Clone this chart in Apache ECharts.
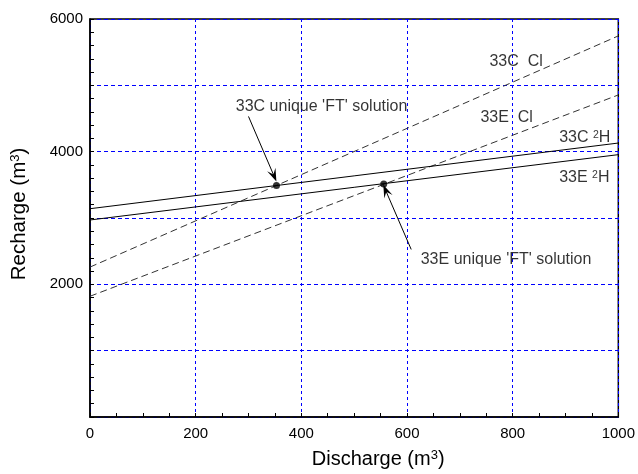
<!DOCTYPE html>
<html>
<head>
<meta charset="utf-8">
<script src="https://cdn.jsdelivr.net/npm/echarts@6/dist/echarts.min.js"></script>
<style>
    html, body { margin: 0; padding: 0; background: #fff; }
    #chart { width: 638px; height: 474px; }
</style>
</head>
<body>
<div id="chart"></div>
<script>
// discharge end points of the model lines (m3)
var discharge = [0, 1000];
// recharge (m3) given by each tracer at those end points
var c33H2 = [3140, 4130];
var e33H2 = [2970, 3955];
var c33Cl = [2260, 5745];
var e33Cl = [1820, 4855];
// unique 'FT' solutions [discharge, recharge]
var c33Solution = [353, 3490];
var e33Solution = [556, 3512];
// labelled ticks
var xTicks = [0, 200, 400, 600, 800, 1000];
var yTicks = [2000, 4000, 6000];

(function(window, document, undefined) {
    var FONT = "'Liberation Sans', Arial, sans-serif";
    var GRID_BLUE = '#0000ff';

    // line labels and call-outs, placed in data units
    var notes = [
        { text: '33C  Cl', at: [756, 5353] },
        { text: '33E  Cl', at: [739, 4511] },
        { text: '33C {s|2}H', at: [888, 4205] },
        { text: '33E {s|2}H', at: [888, 3612] },
        { text: "33C unique 'FT' solution", at: [276, 4680] },
        { text: "33E unique 'FT' solution", at: [626, 2376] }
    ];
    var arrows = [
        [[300, 4531], [348, 3640]],
        [[608, 2526], [560, 3410]]
    ];

    var pairs = function(ys) {
        return discharge.map(function(x, i) { return [x, ys[i]]; });
    };

    var modelLine = function(name, ys, dashed) {
        return {
            name: name,
            type: 'line',
            data: pairs(ys),
            symbol: 'none',
            silent: true,
            z: 3,
            lineStyle: {
                color: dashed ? '#333' : '#000',
                width: 1,
                type: dashed ? [7, 4] : 'solid'
            }
        };
    };

    var chart = echarts.init(document.getElementById('chart'), null, { renderer: 'canvas' });

    var option = {
        animation: false,
        backgroundColor: '#fff',
        textStyle: { fontFamily: FONT },
        grid: {
            left: 90, right: 12, top: 19, bottom: 56,
            show: true,
            borderColor: '#000',
            borderWidth: 1.5
        },
        xAxis: {
            type: 'value',
            min: 0, max: 1000, interval: 200,
            name: 'Discharge (m{s|3})',
            nameLocation: 'middle',
            nameGap: 32,
            nameTextStyle: {
                fontSize: 20, color: '#000', fontFamily: FONT,
                padding: [0, 0, 0, 48],
                rich: { s: { fontSize: 13, verticalAlign: 'top', fontFamily: FONT, color: '#000' } }
            },
            axisLine: { show: true, onZero: false, lineStyle: { color: '#000', width: 1.5 } },
            axisTick: { show: true, inside: true, length: 4, lineStyle: { color: '#000' } },
            minorTick: { show: true, splitNumber: 4, length: 4, lineStyle: { color: '#000' } },
            axisLabel: {
                fontSize: 15, color: '#000', margin: 9, fontFamily: FONT,
                formatter: function(v) { return xTicks.indexOf(v) > -1 ? String(v) : ''; }
            },
            splitLine: { show: true, lineStyle: { color: GRID_BLUE, width: 1, type: [3, 3] } }
        },
        yAxis: {
            type: 'value',
            min: 0, max: 6000, interval: 1000,
            name: 'Recharge (m{s|3})',
            nameLocation: 'middle',
            nameGap: 60,
            nameTextStyle: {
                fontSize: 20.5, color: '#000', fontFamily: FONT,
                padding: [0, 0, 0, 8],
                rich: { s: { fontSize: 13, verticalAlign: 'top', fontFamily: FONT, color: '#000' } }
            },
            axisLine: { show: true, lineStyle: { color: '#000', width: 1.5 } },
            axisTick: { show: true, inside: true, length: 4, lineStyle: { color: '#000' } },
            minorTick: { show: true, splitNumber: 5, length: 4, lineStyle: { color: '#000' } },
            axisLabel: {
                fontSize: 15, color: '#000', margin: 7, fontFamily: FONT,
                formatter: function(v) { return yTicks.indexOf(v) > -1 ? String(v) : ''; }
            },
            splitLine: { show: true, lineStyle: { color: GRID_BLUE, width: 1, type: [4, 3] } }
        },
        series: [
            modelLine('33C Cl', c33Cl, true),
            modelLine('33E Cl', e33Cl, true),
            modelLine('33C 2H', c33H2, false),
            modelLine('33E 2H', e33H2, false),
            {
                // the two unique solutions
                name: 'solutions',
                type: 'scatter',
                data: [c33Solution, e33Solution],
                symbol: 'circle',
                symbolSize: 7,
                itemStyle: { color: '#000' },
                silent: true,
                z: 5
            },
            {
                // text and arrows
                name: 'notes',
                type: 'scatter',
                symbolSize: 0,
                silent: true,
                z: 6,
                data: notes.map(function(n) {
                    return {
                        value: n.at,
                        label: {
                            show: true,
                            position: 'right',
                            distance: 0,
                            formatter: n.text,
                            fontSize: 16,
                            color: '#000',
                            fontFamily: FONT,
                            rich: { s: { fontSize: 10.5, verticalAlign: 'top', color: '#000', fontFamily: FONT } }
                        }
                    };
                }),
                markLine: {
                    silent: true,
                    // "v" head like the original call-outs
                    symbol: ['none', 'path://M0,12 L5,0 L10,12 L5,7 Z'],
                    symbolSize: [9, 13],
                    label: { show: false },
                    lineStyle: { color: '#000', width: 1, type: 'solid' },
                    itemStyle: { color: '#000' },
                    data: arrows.map(function(a) {
                        return [{ coord: a[0] }, { coord: a[1] }];
                    })
                }
            }
        ]
    };

    chart.setOption(option);
}(window, document));
</script>
</body>
</html>
